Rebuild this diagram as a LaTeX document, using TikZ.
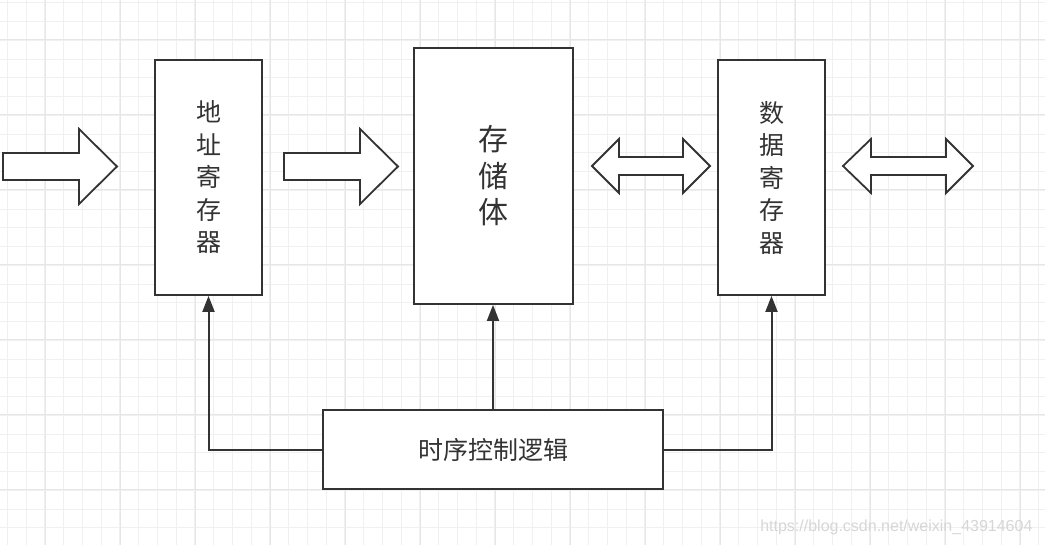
\documentclass[tikz,border=0pt]{standalone}
\usepackage{fontspec}
\setmainfont{Noto Sans CJK SC}
\newfontfamily\markfont{Liberation Sans}
\usepackage{tikz}
\usetikzlibrary{arrows.meta,positioning}

\definecolor{gridminor}{HTML}{F0F0F0}
\definecolor{gridmajor}{HTML}{E6E6E6}
\definecolor{ink}{HTML}{333333}

\tikzset{
  regbox/.style={draw=ink,text=ink,line width=1.8pt,fill=white,align=center,font=\fontsize{25}{32.5}\selectfont},
  ctlline/.style={draw=ink,line width=2pt,-{Triangle[length=16pt,width=12pt]}},
  blockarrow/.style={draw=ink,line width=1.8pt,fill=white,line join=miter}
}

\begin{document}
\begin{tikzpicture}[x=1pt,y=-1pt]
\useasboundingbox (0,0) rectangle (1045,545);
\fill[white] (0,0) rectangle (1045,545);
% grid
\foreach \i in {0,...,55} \draw[gridminor,line width=0.8pt] ({7.3+18.75*\i},0) -- ({7.3+18.75*\i},545);
\foreach \j in {0,...,29} \draw[gridminor,line width=0.8pt] (0,{2.7+18.75*\j}) -- (1045,{2.7+18.75*\j});
\foreach \i in {0,...,13} \draw[gridmajor,line width=0.9pt] ({45+75*\i},0) -- ({45+75*\i},545);
\foreach \j in {0,...,7} \draw[gridmajor,line width=0.9pt] (0,{39.3+75*\j}) -- (1045,{39.3+75*\j});

% registers and memory
\node[regbox,minimum width=107pt,minimum height=235pt] (addr) at (208.5,177.5) {地\\址\\寄\\存\\器};
\node[regbox,minimum width=159pt,minimum height=256pt,font=\fontsize{30}{36.5}\selectfont] (mem) at (493.5,176) {存\\储\\体};
\node[regbox,minimum width=107pt,minimum height=235pt] (data) at (771.5,177.5) {数\\据\\寄\\存\\器};
\node[regbox,minimum width=340pt,minimum height=79pt] (ctrl) at (493,449.5) {时序控制逻辑};

% control lines
\draw[ctlline] (ctrl.west) -| (addr.south);
\draw[ctlline] (ctrl.north) -- (ctrl.north |- mem.south);
\draw[ctlline] (ctrl.east) -| (data.south);

% bus arrows
\draw[blockarrow] (3,153) -- (79,153) -- (79,129) -- (117,166.5) -- (79,204) -- (79,180) -- (3,180) -- cycle;
\draw[blockarrow] (284,153) -- (360,153) -- (360,129) -- (398,166.5) -- (360,204) -- (360,180) -- (284,180) -- cycle;
\draw[blockarrow] (592,166) -- (619,139) -- (619,157) -- (683,157) -- (683,139) -- (710,166) -- (683,193) -- (683,175) -- (619,175) -- (619,193) -- cycle;
\draw[blockarrow] (843,166) -- (871,139) -- (871,157) -- (946,157) -- (946,139) -- (973,166) -- (946,193) -- (946,175) -- (871,175) -- (871,193) -- cycle;

\node[text=black!16,font=\markfont\fontsize{16}{16}\selectfont,anchor=east] (mark) at (1036,527) {https://blog.csdn.net/weixin\_43914604};
\end{tikzpicture}
\end{document}
